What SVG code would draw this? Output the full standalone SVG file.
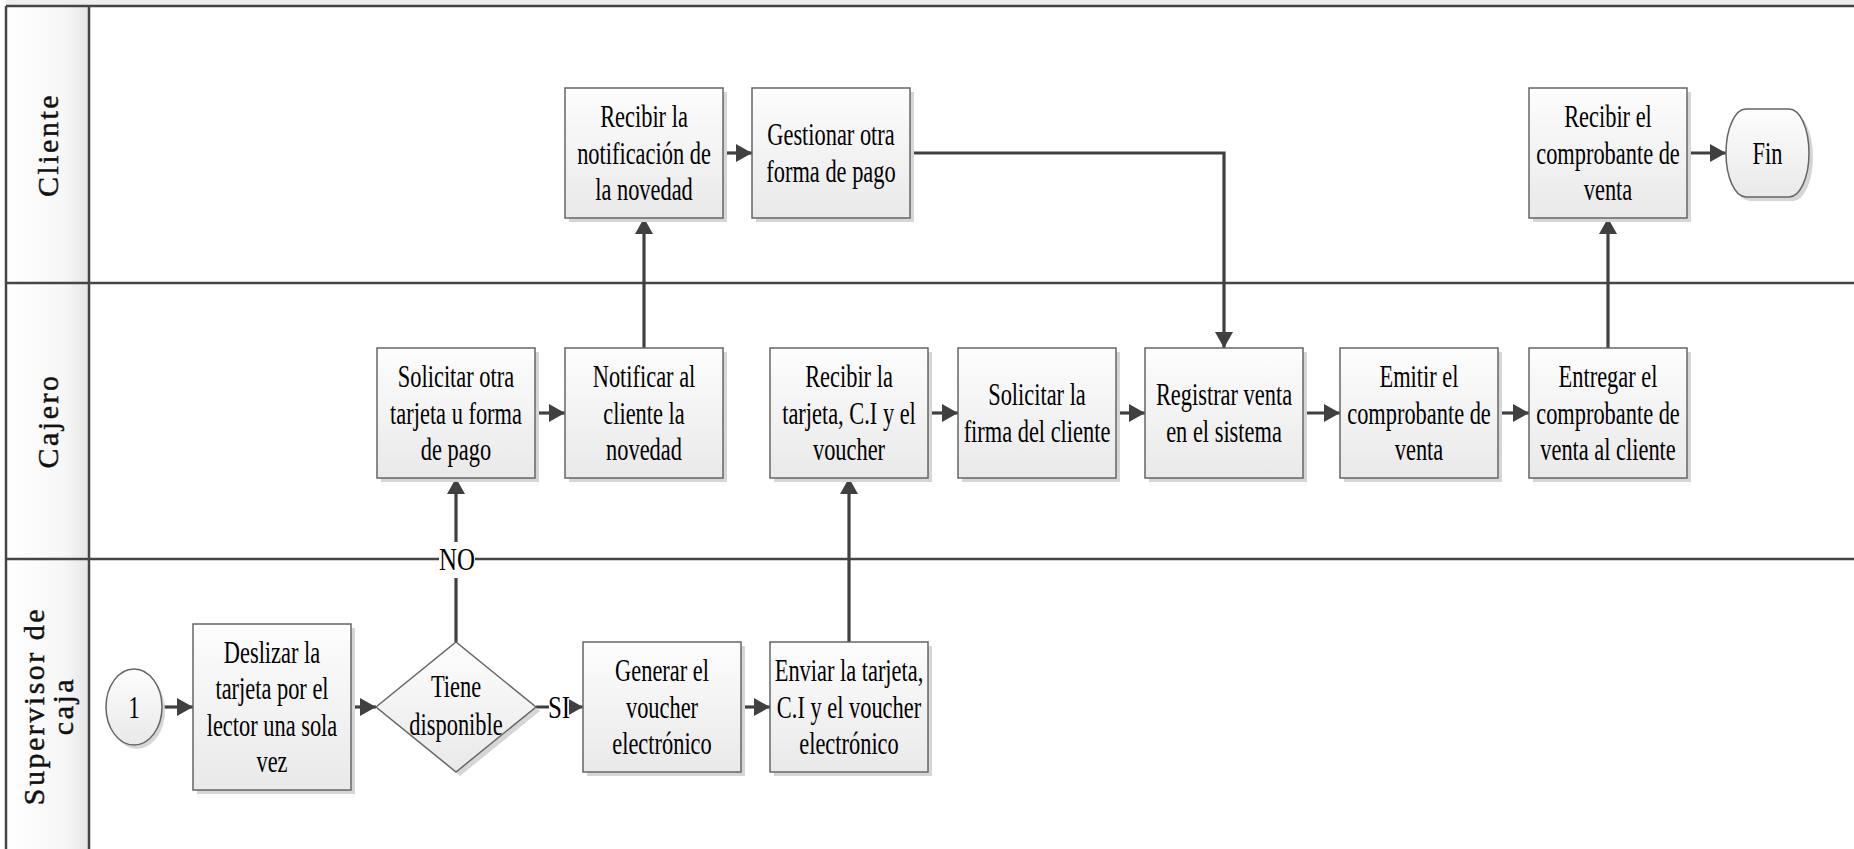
<svg xmlns="http://www.w3.org/2000/svg" width="1854" height="849" viewBox="0 0 1854 849">
  <style>
    .lane-line { stroke: #454545; stroke-width: 2.5; fill: none; }
    .lane-label { font-family: "Liberation Serif", "Times New Roman", serif; font-size: 30px; letter-spacing: 2.5px; text-anchor: middle; fill: #111; stroke: #111; stroke-width: 0.45; }
    .t { font-family: "Liberation Serif", "Times New Roman", serif; font-size: 32px; text-anchor: middle; fill: #000; }
    .box { fill: url(#boxFill); stroke: #666; stroke-width: 1.5; }
    .shadow { fill: #d6d6d6; }
    .conn { stroke: #404040; stroke-width: 3.2; fill: none; marker-end: url(#arrow); }
  </style>
  <defs>
    <linearGradient id="boxFill" x1="0" y1="0" x2="0" y2="1">
      <stop offset="0" stop-color="#fdfdfd"/>
      <stop offset="1" stop-color="#e9e9e9"/>
    </linearGradient>
    <linearGradient id="headFill" x1="0" y1="0" x2="1" y2="0">
      <stop offset="0" stop-color="#ffffff"/>
      <stop offset="0.7" stop-color="#f7f7f7"/>
      <stop offset="1" stop-color="#e6e6e6"/>
    </linearGradient>
    <marker id="arrow" markerUnits="userSpaceOnUse" markerWidth="18" markerHeight="20" refX="16" refY="9" orient="auto">
      <path d="M0,0 L16,9 L0,18 Z" fill="#404040"/>
    </marker>
  </defs>

  <!-- pool background -->
  <rect x="0" y="0" width="1854" height="849" fill="#ffffff"/>
  <rect x="6" y="0" width="1848" height="6" fill="#eeeeee"/>
  <rect x="6" y="6" width="83" height="843" fill="url(#headFill)"/>

  <!-- lanes -->
  <g id="lanes">
    <line class="lane-line" x1="6" y1="6" x2="1854" y2="6"/>
    <line class="lane-line" x1="6" y1="283" x2="1854" y2="283"/>
    <line class="lane-line" x1="6" y1="559" x2="1854" y2="559"/>
    <line class="lane-line" x1="6" y1="6" x2="6" y2="849"/>
    <line class="lane-line" x1="89" y1="6" x2="89" y2="849"/>
    <g id="lane-cliente"><text class="lane-label" transform="translate(58,145) rotate(-90)">Cliente</text></g>
    <g id="lane-cajero"><text class="lane-label" transform="translate(58,421) rotate(-90)">Cajero</text></g>
    <g id="lane-supervisor">
      <text class="lane-label" transform="translate(44,706) rotate(-90)">Supervisor de</text>
      <text class="lane-label" transform="translate(73,706) rotate(-90)">caja</text>
    </g>
  </g>

  <!-- connectors -->
  <g id="connectors">
    <line class="conn" x1="162" y1="707" x2="193" y2="707"/>
    <line class="conn" x1="351" y1="707" x2="376" y2="707"/>
    <line class="conn" x1="536" y1="707" x2="583" y2="707"/>
    <line class="conn" x1="456" y1="642" x2="456" y2="478"/>
    <line class="conn" x1="741" y1="707" x2="770" y2="707"/>
    <line class="conn" x1="849" y1="642" x2="849" y2="478"/>
    <line class="conn" x1="535" y1="413" x2="565" y2="413"/>
    <line class="conn" x1="644" y1="348" x2="644" y2="218"/>
    <line class="conn" x1="724" y1="153" x2="752" y2="153"/>
    <polyline class="conn" points="910,153 1224,153 1224,348"/>
    <line class="conn" x1="928" y1="413" x2="958" y2="413"/>
    <line class="conn" x1="1116" y1="413" x2="1145" y2="413"/>
    <line class="conn" x1="1303" y1="413" x2="1340" y2="413"/>
    <line class="conn" x1="1498" y1="413" x2="1529" y2="413"/>
    <line class="conn" x1="1608" y1="348" x2="1608" y2="218"/>
    <line class="conn" x1="1687" y1="153" x2="1726" y2="153"/>
    <!-- branch labels -->
    <rect x="439" y="542" width="36" height="36" fill="#ffffff"/>
    <g transform="translate(457,570) scale(0.78,1)"><text class="t" x="0" y="0">NO</text></g>
    <rect x="549" y="692" width="20" height="30" fill="#ffffff"/>
    <g transform="translate(559,718) scale(0.78,1)"><text class="t" x="0" y="0">SI</text></g>
  </g>

  <!-- start connector -->
  <g id="n-start">
    <ellipse class="shadow" cx="137" cy="711" rx="28" ry="38"/>
    <ellipse class="box" cx="134" cy="707" rx="28" ry="38"/>
    <g transform="translate(134,718) scale(0.7,1)"><text class="t" x="0" y="0">1</text></g>
  </g>

  <g id="n-deslizar">
    <rect class="shadow" x="197" y="628" width="158" height="166"/>
    <rect class="box" x="193" y="624" width="158" height="166"/>
    <g transform="translate(272,707) scale(0.7,1)"><text class="t" x="0" y="-44.25"><tspan x="0">Deslizar la</tspan><tspan x="0" dy="36.5">tarjeta por el</tspan><tspan x="0" dy="36.5">lector una sola</tspan><tspan x="0" dy="36.5">vez</tspan></text></g>
  </g>

  <g id="n-tiene">
    <polygon class="shadow" points="380,711 460,646 540,711 460,776"/>
    <polygon class="box" points="376,707 456,642 536,707 456,772"/>
    <g transform="translate(456,707) scale(0.7,1)"><text class="t" x="0" y="-10"><tspan x="0">Tiene</tspan><tspan x="0" dy="37.5">disponible</tspan></text></g>
  </g>

  <g id="n-generar">
    <rect class="shadow" x="587" y="646" width="158" height="130"/>
    <rect class="box" x="583" y="642" width="158" height="130"/>
    <g transform="translate(662,707) scale(0.7,1)"><text class="t" x="0" y="-26"><tspan x="0">Generar el</tspan><tspan x="0" dy="36.5">voucher</tspan><tspan x="0" dy="36.5">electrónico</tspan></text></g>
  </g>

  <g id="n-enviar">
    <rect class="shadow" x="774" y="646" width="158" height="130"/>
    <rect class="box" x="770" y="642" width="158" height="130"/>
    <g transform="translate(849,707) scale(0.7,1)"><text class="t" x="0" y="-26"><tspan x="0">Enviar la tarjeta,</tspan><tspan x="0" dy="36.5">C.I y el voucher</tspan><tspan x="0" dy="36.5">electrónico</tspan></text></g>
  </g>

  <g id="n-solicitar-otra">
    <rect class="shadow" x="381" y="352" width="158" height="130"/>
    <rect class="box" x="377" y="348" width="158" height="130"/>
    <g transform="translate(456,413) scale(0.7,1)"><text class="t" x="0" y="-26"><tspan x="0">Solicitar otra</tspan><tspan x="0" dy="36.5">tarjeta u forma</tspan><tspan x="0" dy="36.5">de pago</tspan></text></g>
  </g>

  <g id="n-notificar">
    <rect class="shadow" x="569" y="352" width="158" height="130"/>
    <rect class="box" x="565" y="348" width="158" height="130"/>
    <g transform="translate(644,413) scale(0.7,1)"><text class="t" x="0" y="-26"><tspan x="0">Notificar al</tspan><tspan x="0" dy="36.5">cliente la</tspan><tspan x="0" dy="36.5">novedad</tspan></text></g>
  </g>

  <g id="n-recibir-notificacion">
    <rect class="shadow" x="569" y="92" width="158" height="130"/>
    <rect class="box" x="565" y="88" width="158" height="130"/>
    <g transform="translate(644,153) scale(0.7,1)"><text class="t" x="0" y="-26"><tspan x="0">Recibir la</tspan><tspan x="0" dy="36.5">notificación de</tspan><tspan x="0" dy="36.5">la novedad</tspan></text></g>
  </g>

  <g id="n-gestionar">
    <rect class="shadow" x="756" y="92" width="158" height="130"/>
    <rect class="box" x="752" y="88" width="158" height="130"/>
    <g transform="translate(831,153) scale(0.7,1)"><text class="t" x="0" y="-7.75"><tspan x="0">Gestionar otra</tspan><tspan x="0" dy="36.5">forma de pago</tspan></text></g>
  </g>

  <g id="n-recibir-tarjeta">
    <rect class="shadow" x="774" y="352" width="158" height="130"/>
    <rect class="box" x="770" y="348" width="158" height="130"/>
    <g transform="translate(849,413) scale(0.7,1)"><text class="t" x="0" y="-26"><tspan x="0">Recibir la</tspan><tspan x="0" dy="36.5">tarjeta, C.I y el</tspan><tspan x="0" dy="36.5">voucher</tspan></text></g>
  </g>

  <g id="n-firma">
    <rect class="shadow" x="962" y="352" width="158" height="130"/>
    <rect class="box" x="958" y="348" width="158" height="130"/>
    <g transform="translate(1037,413) scale(0.7,1)"><text class="t" x="0" y="-7.75"><tspan x="0">Solicitar la</tspan><tspan x="0" dy="36.5">firma del cliente</tspan></text></g>
  </g>

  <g id="n-registrar">
    <rect class="shadow" x="1149" y="352" width="158" height="130"/>
    <rect class="box" x="1145" y="348" width="158" height="130"/>
    <g transform="translate(1224,413) scale(0.7,1)"><text class="t" x="0" y="-7.75"><tspan x="0">Registrar venta</tspan><tspan x="0" dy="36.5">en el sistema</tspan></text></g>
  </g>

  <g id="n-emitir">
    <rect class="shadow" x="1344" y="352" width="158" height="130"/>
    <rect class="box" x="1340" y="348" width="158" height="130"/>
    <g transform="translate(1419,413) scale(0.7,1)"><text class="t" x="0" y="-26"><tspan x="0">Emitir el</tspan><tspan x="0" dy="36.5">comprobante de</tspan><tspan x="0" dy="36.5">venta</tspan></text></g>
  </g>

  <g id="n-entregar">
    <rect class="shadow" x="1533" y="352" width="158" height="130"/>
    <rect class="box" x="1529" y="348" width="158" height="130"/>
    <g transform="translate(1608,413) scale(0.7,1)"><text class="t" x="0" y="-26"><tspan x="0">Entregar el</tspan><tspan x="0" dy="36.5">comprobante de</tspan><tspan x="0" dy="36.5">venta al cliente</tspan></text></g>
  </g>

  <g id="n-recibir-comprobante">
    <rect class="shadow" x="1533" y="92" width="158" height="130"/>
    <rect class="box" x="1529" y="88" width="158" height="130"/>
    <g transform="translate(1608,153) scale(0.7,1)"><text class="t" x="0" y="-26"><tspan x="0">Recibir el</tspan><tspan x="0" dy="36.5">comprobante de</tspan><tspan x="0" dy="36.5">venta</tspan></text></g>
  </g>

  <g id="n-fin">
    <rect class="shadow" x="1730" y="113" width="83" height="88" rx="20" ry="44"/>
    <rect class="box" x="1726" y="109" width="83" height="88" rx="20" ry="44"/>
    <g transform="translate(1767.5,164) scale(0.7,1)"><text class="t" x="0" y="0">Fin</text></g>
  </g>
</svg>
